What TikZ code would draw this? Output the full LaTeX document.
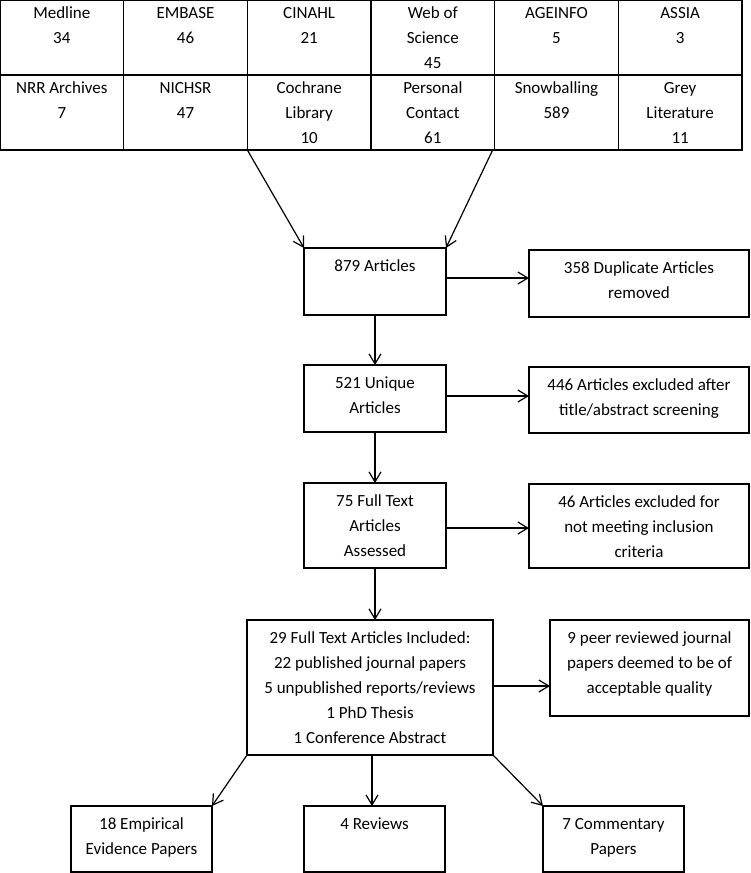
\documentclass[tikz,border=0pt]{standalone}
\usepackage{fontspec}
\setmainfont{Carlito}
\usetikzlibrary{arrows.meta}
\begin{document}
\begin{tikzpicture}[x=1pt,y=-1pt,
  line width=1.2pt,
  cell/.style={draw, rectangle, minimum width=123.67pt, minimum height=75pt, inner sep=0, outer sep=0},
  box/.style={draw, rectangle, inner sep=0, outer sep=0},
  txt/.style={font=\fontsize{17}{25}\selectfont, align=center, inner sep=0, anchor=north},
  arr/.style={-{Straight Barb[length=10pt,width=12pt]}}]
\useasboundingbox (0,0) rectangle (750,873);
% table
\node[cell] (c11) at (61.83,37.5) {};
\node[cell] (c12) at (185.5,37.5) {};
\node[cell] (c13) at (309.17,37.5) {};
\node[cell] (c14) at (432.83,37.5) {};
\node[cell] (c15) at (556.5,37.5) {};
\node[cell] (c16) at (680.17,37.5) {};
\node[cell] (c21) at (61.83,112.5) {};
\node[cell] (c22) at (185.5,112.5) {};
\node[cell] (c23) at (309.17,112.5) {};
\node[cell] (c24) at (432.83,112.5) {};
\node[cell] (c25) at (556.5,112.5) {};
\node[cell] (c26) at (680.17,112.5) {};
\foreach \c/\t in {c11/{Medline\\34}, c12/{EMBASE\\46}, c13/{CINAHL\\21}, c14/{Web of\\Science\\45}, c15/{AGEINFO\\5}, c16/{ASSIA\\3},
  c21/{NRR Archives\\7}, c22/{NICHSR\\47}, c23/{Cochrane\\Library\\10}, c24/{Personal\\Contact\\61}, c25/{Snowballing\\589}, c26/{Grey\\Literature\\11}}
  \node[txt] (t\c) at ([yshift=-0.5pt]\c.north) {\strut\t};
% boxes
\node[box, minimum width=142pt, minimum height=67pt] (b879) at (375,281.5) {};
\node[box, minimum width=220pt, minimum height=67pt] (bdup) at (639,283.5) {};
\node[box, minimum width=142pt, minimum height=67pt] (b521) at (375,398.5) {};
\node[box, minimum width=220pt, minimum height=66pt] (bexa) at (639,400) {};
\node[box, minimum width=142pt, minimum height=85pt] (b75) at (375,525.5) {};
\node[box, minimum width=220pt, minimum height=84pt] (bexb) at (639,526) {};
\node[box, minimum width=246pt, minimum height=135pt] (b29) at (370,687.5) {};
\node[box, minimum width=199pt, minimum height=96pt] (b9) at (649.5,668) {};
\node[box, minimum width=141pt, minimum height=66pt] (bemp) at (141.5,839) {};
\node[box, minimum width=141pt, minimum height=66pt] (brev) at (374.5,839) {};
\node[box, minimum width=141pt, minimum height=66pt] (bcom) at (613.5,839) {};
% texts
\node[txt] (t879) at ([yshift=-5.5pt]b879.north) {\strut 879 Articles};
\node[txt] (tdup) at ([yshift=-5.5pt]bdup.north) {\strut 358 Duplicate Articles\\removed};
\node[txt] (t521) at ([yshift=-5.5pt]b521.north) {\strut 521 Unique\\Articles};
\node[txt] (texa) at ([yshift=-5.5pt]bexa.north) {\strut 446 Articles excluded after\\title/abstract screening};
\node[txt] (t75) at ([yshift=-5.5pt]b75.north) {\strut 75 Full Text\\Articles\\Assessed};
\node[txt] (texb) at ([yshift=-5.5pt]bexb.north) {\strut 46 Articles excluded for\\not meeting inclusion\\criteria};
\node[txt] (t29) at ([yshift=-5pt]b29.north) {\strut 29 Full Text Articles Included:\\22 published journal papers\\5 unpublished reports/reviews\\1 PhD Thesis\\1 Conference Abstract};
\node[txt] (t9) at ([yshift=-5pt]b9.north) {\strut 9 peer reviewed journal\\papers deemed to be of\\acceptable quality};
\node[txt] (temp) at ([yshift=-5pt]bemp.north) {\strut 18 Empirical\\Evidence Papers};
\node[txt] (trev) at ([yshift=-5pt]brev.north) {\strut 4 Reviews};
\node[txt] (tcom) at ([yshift=-5pt]bcom.north) {\strut 7 Commentary\\Papers};
% connector anchor points
\coordinate (p1) at ([yshift=3.5pt]b879.east);
\coordinate (p2) at ([yshift=2.5pt]b521.east);
\coordinate (p3) at ([yshift=-2.5pt]b75.east);
\coordinate (p4) at ([yshift=1.5pt]b29.east);
\coordinate (p5) at ([xshift=2pt]b29.south);
\coordinate (p6) at ([xshift=-2pt]c24.south east);
% connectors
\draw[arr] (c23.south west) -- (b879.north west);
\draw[arr] (p6) -- (b879.north east);
\draw[arr] (p1) -- (bdup.west |- p1);
\draw[arr] (b879.south) -- (b521.north);
\draw[arr] (p2) -- (bexa.west |- p2);
\draw[arr] (b521.south) -- (b75.north);
\draw[arr] (p3) -- (bexb.west |- p3);
\draw[arr] (b75.south) -- (b75.south |- b29.north);
\draw[arr] (p4) -- (b9.west |- p4);
\draw[arr] (b29.south west) -- (bemp.north east);
\draw[arr] (p5) -- (p5 |- brev.north);
\draw[arr] (b29.south east) -- (bcom.north west);
\end{tikzpicture}
\end{document}
